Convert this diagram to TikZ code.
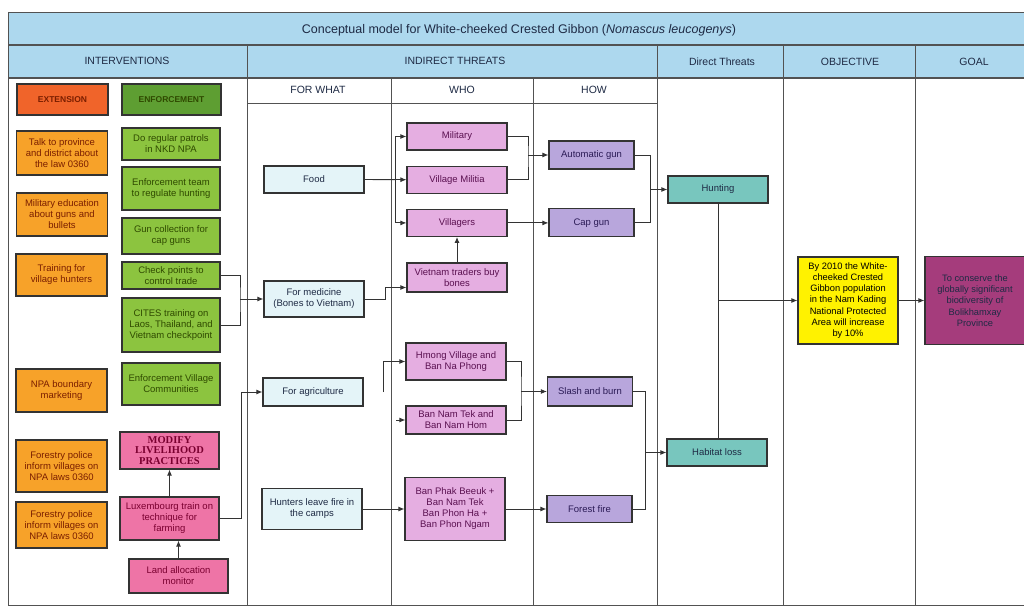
\documentclass[tikz,border=0pt]{standalone}
\usepackage{fontspec}
\setmainfont{Liberation Sans}
\newfontfamily\gbserif{Liberation Serif}
\usepackage{tikz}
\usetikzlibrary{arrows.meta, positioning, calc}
\definecolor{gbHead}{HTML}{ADD8EE}
\definecolor{gbLine}{HTML}{333333}
\definecolor{gbNavy}{HTML}{1E2A44}
\definecolor{gbExtHead}{HTML}{F0642A}
\definecolor{gbExt}{HTML}{F7A229}
\definecolor{gbExtText}{HTML}{7A1E00}
\definecolor{gbEnfHead}{HTML}{5E9E32}
\definecolor{gbEnf}{HTML}{8CC43F}
\definecolor{gbEnfText}{HTML}{2F4A00}
\definecolor{gbLive}{HTML}{EE74A6}
\definecolor{gbLiveText}{HTML}{7A0030}
\definecolor{gbWhat}{HTML}{E4F4F8}
\definecolor{gbWho}{HTML}{E5AEE1}
\definecolor{gbWhoText}{HTML}{5A1050}
\definecolor{gbHow}{HTML}{B8A6DC}
\definecolor{gbHowText}{HTML}{2A1A55}
\definecolor{gbDirect}{HTML}{78C6BE}
\definecolor{gbObj}{HTML}{FFF200}
\definecolor{gbGoal}{HTML}{A53C7C}

\begin{document}
\begin{tikzpicture}[x=1pt, y=-1pt,
  box/.style={draw=gbLine, line width=1.2pt, align=center, inner sep=1pt,
               font=\fontsize{9.5}{11}\selectfont},
  exthead/.style={box, fill=gbExtHead, text=gbExtText, minimum width=91pt, minimum height=31pt,
               font=\fontsize{8.5}{10}\selectfont\bfseries},
  enfhead/.style={box, fill=gbEnfHead, text=gbEnfText, minimum width=99pt, minimum height=31pt,
               font=\fontsize{8.5}{10}\selectfont\bfseries},
  extbox/.style={box, fill=gbExt, text=gbExtText, minimum width=91pt},
  enfbox/.style={box, fill=gbEnf, text=gbEnfText, minimum width=98pt},
  livebox/.style={box, fill=gbLive, text=gbLiveText, minimum width=99pt},
  whatbox/.style={box, fill=gbWhat, text=gbNavy, minimum width=100pt},
  whobox/.style={box, fill=gbWho, text=gbWhoText, minimum width=100pt, minimum height=27pt},
  howbox/.style={box, fill=gbHow, text=gbHowText, minimum width=85pt, minimum height=28pt},
  dirbox/.style={box, fill=gbDirect, text=gbNavy, minimum width=100pt, minimum height=27pt},
  headtxt/.style={font=\fontsize{10.5}{12}\selectfont, text=gbNavy},
  rule/.style={line width=0.9pt, color=gbLine!85},
  link/.style={line width=0.9pt, color=gbLine},
  arr/.style={-{Latex[length=6pt,width=5pt]}, line width=0.9pt, color=gbLine}
]
  \useasboundingbox (0,0) rectangle (1024,609);
  \fill[white] (0,0) rectangle (1024,609);

  % table
  \fill[gbHead] (8,12) rectangle (1030,78);
  \draw[rule] (8,12) -- (1030,12);
  \draw[rule, line width=1.6pt] (8,45) -- (1030,45);
  \draw[rule, line width=1.6pt] (8,78) -- (1030,78);
  \draw[rule] (247,103) -- (657,103);
  \draw[rule] (8,12) -- (8,605);
  \foreach \cx in {247,657,783,915} \draw[rule] (\cx,45) -- (\cx,605);
  \foreach \cx in {391,533} \draw[rule] (\cx,78) -- (\cx,605);
  \draw[rule] (8,605) -- (1030,605);

  \node[font=\fontsize{12.5}{14}\selectfont, text=gbNavy] (title) at (519,30)
    {Conceptual model for White-cheeked Crested Gibbon (\textit{Nomascus leucogenys})};
  \node[headtxt] (hInt) at (127,61) {INTERVENTIONS};
  \node[headtxt] (hInd) at (455,61) {INDIRECT THREATS};
  \node[headtxt] (hDir) at (722,62) {Direct Threats};
  \node[headtxt] (hObj) at (850,62) {OBJECTIVE};
  \node[headtxt] (hGoal) at (974,62) {GOAL};
  \node[headtxt] (hWhat) at (318,90) {FOR WHAT};
  \node[headtxt] (hWho) at (462,90) {WHO};
  \node[headtxt] (hHow) at (594,90) {HOW};

  % interventions
  \node[exthead] (ext) at (62.5,99.5) {EXTENSION};
  \node[enfhead] (enf) at (171.5,99.5) {ENFORCEMENT};
  \node[extbox, minimum height=44pt] (talk) at (62,153) {Talk to province\\and district about\\the law 0360};
  \node[extbox, minimum height=43pt] (miledu) at (62,214.5) {Military education\\about guns and\\bullets};
  \node[extbox, minimum height=42pt] (training) at (61.5,275) {Training for\\village hunters};
  \node[extbox, minimum height=43pt] (boundary) at (61.5,390.5) {NPA boundary\\marketing};
  \node[extbox, minimum height=52pt] (police) at (61.5,466) {Forestry police\\inform villages on\\NPA laws 0360};
  \node[extbox, minimum height=46pt] (policeb) at (61.5,525) {Forestry police\\inform villages on\\NPA laws 0360};

  \node[enfbox, minimum height=32pt] (patrols) at (171,144) {Do regular patrols\\in NKD NPA};
  \node[enfbox, minimum height=43pt] (team) at (171,188.5) {Enforcement team\\to regulate hunting};
  \node[enfbox, minimum height=36pt] (guncol) at (171,236) {Gun collection for\\cap guns};
  \node[enfbox, minimum height=27pt] (check) at (171,275.5) {Check points to\\control trade};
  \node[enfbox, minimum height=54pt] (cites) at (171,325) {CITES training on\\Laos, Thailand, and\\Vietnam checkpoint};
  \node[enfbox, minimum height=42pt] (villcomm) at (171,384) {Enforcement Village\\Communities};

  \node[livebox, minimum height=37pt, font=\gbserif\fontsize{10.5}{10.5}\selectfont\bfseries] (modify) at (169.5,450.5)
    {MODIFY\\LIVELIHOOD\\PRACTICES};
  \node[livebox, minimum height=43pt] (lux) at (169.5,518.5) {Luxembourg train on\\technique for\\farming};
  \node[livebox, minimum height=34pt] (land) at (178.5,576) {Land allocation\\monitor};

  % indirect threats
  \node[whatbox, minimum height=27pt] (food) at (314,179.5) {Food};
  \node[whatbox, minimum height=36pt] (med) at (314,299) {For medicine\\(Bones to Vietnam)};
  \node[whatbox, minimum height=28pt] (agri) at (313,392) {For agriculture};
  \node[whatbox, minimum height=41pt] (hunters) at (312,509) {Hunters leave fire in\\the camps};

  \node[whobox] (military) at (457,136.5) {Military};
  \node[whobox, below=15pt of military] (militia) {Village Militia};
  \node[whobox, below=15pt of militia] (villagers) {Villagers};
  \node[whobox, minimum height=29pt] (traders) at (457,277.5) {Vietnam traders buy\\bones};
  \node[whobox, minimum height=37pt] (hmong) at (456,361.5) {Hmong Village and\\Ban Na Phong};
  \node[whobox, minimum height=28pt] (namtek) at (456,420) {Ban Nam Tek and\\Ban Nam Hom};
  \node[whobox, minimum height=63pt] (phak) at (455,509) {Ban Phak Beeuk +\\Ban Nam Tek\\Ban Phon Ha +\\Ban Phon Ngam};

  \node[howbox] (autogun) at (591.5,155) {Automatic gun};
  \node[howbox] (capgun) at (autogun |- villagers) {Cap gun};
  \node[howbox, minimum height=29pt] (slash) at (590,391.5) {Slash and burn};
  \node[howbox, minimum height=27pt] (forest) at (589.5,509) {Forest fire};

  % direct threats, objective, goal
  \node[dirbox] (hunting) at (718,189.5) {Hunting};
  \node[dirbox] (habitat) at (717,452.5) {Habitat loss};
  \node[box, fill=gbObj, text=black, minimum width=100pt, minimum height=87pt,
        font=\fontsize{9.3}{11.2}\selectfont] (obj) at (848,300.5)
    {By 2010 the White-\\cheeked Crested\\Gibbon population\\in the Nam Kading\\National Protected\\Area will increase\\by 10\%};
  \node[box, fill=gbGoal, text=gbNavy, minimum width=100pt, minimum height=88pt,
        font=\fontsize{9.3}{11.2}\selectfont] (goal) at (975,300.5)
    {To conserve the\\globally significant\\biodiversity of\\Bolikhamxay\\Province};

  % connectors
  \coordinate (medfork) at (240,299);
  \draw[link] (check.east) -| (medfork) |- (cites.east);
  \draw[arr] (medfork) -- (med.west);
  \draw[arr] (lux.east) -- ++(22,0) |- (agri.west);
  \draw[arr] (lux.north) -- (modify.south);
  \draw[arr] (land.north) -- (land.north |- lux.south);

  \coordinate (foodfork) at ($(militia.west)+(-11,0)$);
  \draw[link] (food.east) -- (foodfork);
  \draw[arr] (foodfork) -- (militia.west);
  \draw[arr] (foodfork) |- (military.west);
  \draw[arr] (foodfork) |- (villagers.west);
  \draw[arr] (med.east) -- ++(21,0) |- ([yshift=-10pt]traders.west);
  \draw[arr] (traders.north) -- (villagers.south);

  \coordinate (gunfork) at (528,155);
  \draw[link] (military.east) -| (gunfork) |- (militia.east);
  \draw[arr] (gunfork) -- (autogun.west);
  \draw[arr] (villagers.east) -- (capgun.west);

  \coordinate (agristub) at (383,392);
  \coordinate (tekstub) at (396,420);
  \draw[arr] (agristub) |- (hmong.west);
  \draw[arr] (tekstub) -- (namtek.west);
  \coordinate (slashfork) at (521,391.5);
  \draw[link] (hmong.east) -| (slashfork) |- (namtek.east);
  \draw[arr] (slashfork) -- (slash.west);
  \draw[arr] (hunters.east) -- (phak.west);
  \draw[arr] (phak.east) -- (forest.west);

  \coordinate (huntfork) at (650,189.5);
  \draw[link] (autogun.east) -| (huntfork) |- (capgun.east);
  \draw[arr] (huntfork) -- (hunting.west);
  \coordinate (habfork) at (645,452.5);
  \draw[link] (slash.east) -| (habfork) |- (forest.east);
  \draw[arr] (habfork) -- (habitat.west);

  \coordinate (threatjoin) at (hunting.south |- obj.west);
  \draw[link] (hunting.south) -- (threatjoin |- habitat.north);
  \draw[arr] (threatjoin) -- (obj.west);
  \draw[arr] (obj.east) -- (goal.west);
\end{tikzpicture}
\end{document}
